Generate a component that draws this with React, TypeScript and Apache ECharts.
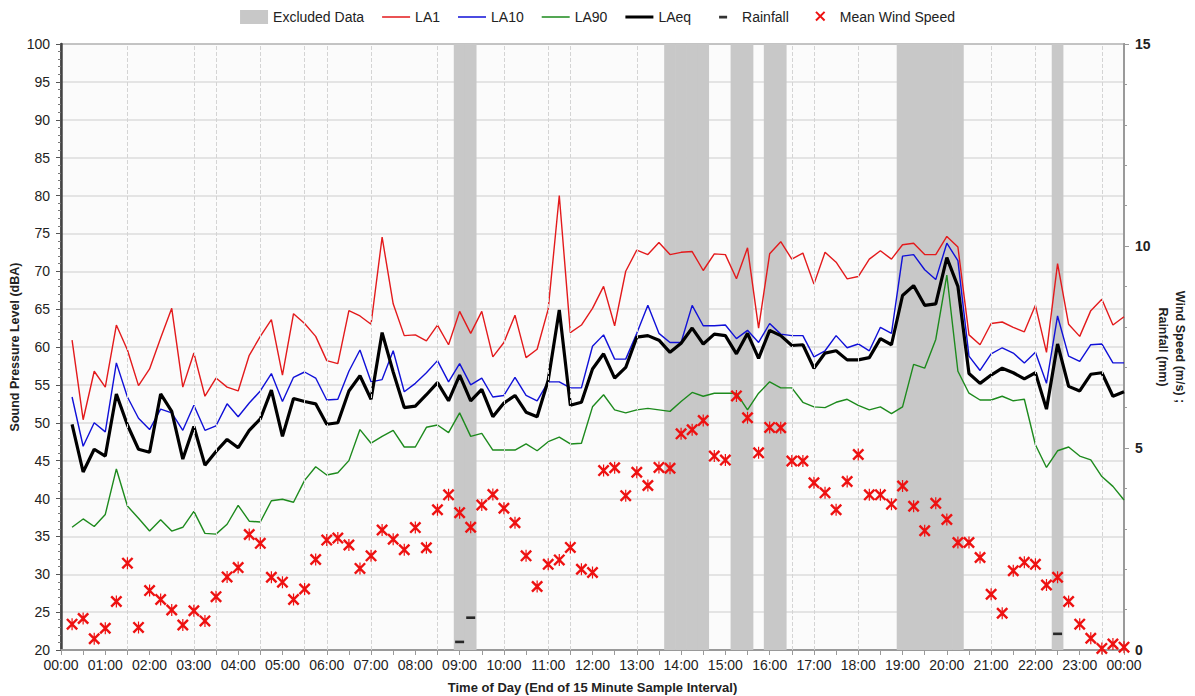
import React, { useEffect, useRef } from "react";
import * as echarts from "echarts";

// 15-minute samples, each stamped with the end of its interval (00:15 ... 24:00)
const SAMPLE_COUNT = 96;
const sampleHours: number[] = Array.from({ length: SAMPLE_COUNT }, (_, i) => (i + 1) / 4);

const la1 = [
  60.9, 50.4, 56.8, 54.7, 62.9, 59.6, 54.9, 57.1, 61.2, 65.1, 54.7, 59.2,
  53.5, 55.9, 54.7, 54.2, 58.9, 61.4, 63.6, 56.3, 64.4, 63.1, 61.4, 58.2,
  57.8, 64.8, 64.1, 63.0, 74.5, 65.7, 61.5, 61.6, 60.8, 62.9, 60.3, 64.7,
  61.8, 64.7, 58.7, 60.6, 64.2, 58.6, 59.7, 65.0, 80.0, 61.9, 62.9, 65.1,
  68.0, 62.8, 70.0, 72.8, 72.2, 73.8, 72.2, 72.5, 72.6, 70.1, 72.3, 72.2,
  69.0, 73.1, 62.5, 72.3, 73.9, 71.6, 72.4, 68.3, 72.5, 71.2, 69.0, 69.3,
  71.6, 72.7, 71.6, 73.5, 73.7, 72.2, 72.2, 74.6, 73.2, 61.6, 60.3, 63.1,
  63.3, 62.6, 62.0, 65.5, 59.3, 71.0, 63.0, 61.4, 64.8, 66.3, 62.9, 64.0,
];

const la10 = [
  53.4, 46.9, 50.0, 48.8, 57.9, 53.4, 50.6, 49.1, 51.8, 51.3, 49.0, 52.3,
  49.0, 49.6, 52.5, 50.8, 52.6, 54.2, 56.5, 52.8, 56.0, 56.7, 55.9, 53.0,
  53.1, 56.8, 59.6, 55.4, 55.7, 59.5, 54.1, 55.2, 56.6, 58.2, 55.4, 57.8,
  55.0, 55.9, 53.4, 53.6, 56.0, 53.6, 52.9, 55.4, 55.4, 54.6, 54.6, 60.1,
  61.6, 58.4, 58.4, 61.8, 65.5, 61.8, 60.6, 60.6, 65.5, 62.8, 62.8, 62.9,
  61.1, 62.2, 60.6, 63.1, 61.7, 61.5, 61.5, 58.7, 59.5, 61.5, 59.9, 60.4,
  59.5, 62.6, 61.8, 72.0, 72.2, 70.2, 68.9, 73.7, 71.4, 58.8, 56.9, 59.1,
  59.9, 59.2, 57.9, 59.3, 55.2, 64.1, 58.8, 58.1, 60.3, 60.4, 57.9, 57.9,
];

const la90 = [
  36.2, 37.3, 36.3, 37.9, 43.9, 39.0, 37.4, 35.7, 37.2, 35.7, 36.2, 38.3,
  35.4, 35.3, 36.6, 39.1, 37.0, 36.9, 39.7, 39.9, 39.5, 42.4, 44.2, 43.1,
  43.4, 45.0, 49.1, 47.3, 48.2, 49.0, 46.8, 46.8, 49.4, 49.7, 48.7, 51.3,
  48.2, 48.6, 46.4, 46.4, 46.4, 47.2, 46.3, 47.5, 48.1, 47.2, 47.3, 52.1,
  53.7, 51.7, 51.3, 51.7, 51.9, 51.7, 51.5, 52.8, 54.0, 53.5, 53.9, 53.9,
  53.9, 51.7, 53.9, 55.4, 54.6, 54.6, 52.7, 52.1, 52.0, 52.7, 53.1, 52.3,
  51.7, 52.1, 51.2, 52.1, 57.7, 57.2, 61.0, 69.5, 56.8, 53.9, 53.0, 53.0,
  53.5, 52.9, 53.1, 47.1, 44.1, 46.3, 46.8, 45.6, 45.1, 42.9, 41.6, 39.8,
];

const laeq = [
  49.8, 43.5, 46.5, 45.6, 53.8, 49.7, 46.5, 46.1, 53.8, 51.5, 45.2, 49.5,
  44.4, 46.2, 47.8, 46.7, 49.0, 50.5, 54.3, 48.2, 53.2, 52.8, 52.5, 49.8,
  50.0, 54.2, 56.2, 53.1, 61.9, 56.7, 52.0, 52.2, 53.7, 55.3, 52.9, 56.3,
  52.9, 54.4, 50.8, 52.6, 53.6, 51.4, 50.8, 55.6, 64.9, 52.3, 52.7, 57.1,
  59.1, 55.9, 57.3, 61.3, 61.5, 60.9, 59.3, 60.5, 62.5, 60.4, 61.7, 61.5,
  59.1, 61.8, 58.5, 62.2, 61.5, 60.2, 60.3, 57.2, 59.2, 59.5, 58.3, 58.3,
  58.6, 61.1, 60.3, 66.8, 68.1, 65.5, 65.7, 71.8, 68.0, 56.5, 55.2, 56.3,
  57.2, 56.6, 55.8, 56.6, 51.8, 60.4, 54.8, 54.2, 56.4, 56.6, 53.5, 54.1,
];

const meanWindSpeed = [
  0.64, 0.78, 0.28, 0.54, 1.2, 2.15, 0.56, 1.47, 1.25, 0.99, 0.62, 0.97,
  0.72, 1.32, 1.81, 2.04, 2.86, 2.64, 1.8, 1.68, 1.25, 1.51, 2.24, 2.72,
  2.77, 2.6, 2.02, 2.33, 2.97, 2.74, 2.48, 3.03, 2.53, 3.47, 3.84, 3.4,
  3.04, 3.59, 3.85, 3.51, 3.15, 2.33, 1.57, 2.12, 2.23, 2.54, 2.0, 1.92,
  4.44, 4.51, 3.82, 4.4, 4.07, 4.52, 4.5, 5.35, 5.45, 5.68, 4.8, 4.7,
  6.29, 5.75, 4.88, 5.51, 5.5, 4.68, 4.68, 4.14, 3.89, 3.47, 4.17, 4.84,
  3.84, 3.84, 3.61, 4.06, 3.56, 2.95, 3.63, 3.23, 2.66, 2.66, 2.29, 1.38,
  0.91, 1.96, 2.17, 2.12, 1.61, 1.8, 1.2, 0.64, 0.29, 0.04, 0.15, 0.07,
];

// Samples with measurable rain
const rainTimes = ["09:00", "09:15", "22:30"];
const rainfallMm = [0.2, 0.8, 0.4];

// Samples excluded from the assessment
const excludedTimes = [
  "09:00", "09:15",
  "13:45", "14:00", "14:15", "14:30",
  "15:15", "15:30",
  "16:00", "16:15",
  "19:00", "19:15", "19:30", "19:45", "20:00", "20:15",
  "22:30",
];

// Vertical reference lines (hours)
const gridHours = [1.5, 3, 3.5, 4.5, 5.5, 6, 7, 8.5, 10, 11, 11.5, 13, 16.5, 17, 18, 21, 22, 23.5];

const FONT = "'Liberation Sans', Arial, sans-serif";
const TEXT = "#222222";

const toHours = (t: string) => {
  const [h, m] = t.split(":").map(Number);
  const v = h + m / 60;
  return v === 0 ? 24 : v;
};

const clock = (v: number) => {
  const h = Math.round(v) % 24;
  return (h < 10 ? "0" : "") + h + ":00";
};

// Asterisk-like cross marker (two heavy diagonals and a thin upright)
const STAR =
  "M0 1.7L1.7 0L12 10.3L10.3 12Z M10.3 0L12 1.7L1.7 12L0 10.3Z M5.4 0L6.6 0L6.6 12L5.4 12Z";
// Legend glyphs padded to the 28x14 icon box so they keep their own size
const PAD = "M0 0h0.05v0.05h-0.05Z M28 14h-0.05v-0.05h0.05Z ";
const STAR_LEGEND =
  "path://" + PAD +
  "M8.5 2.6L9.9 1.2L18.5 9.8L17.1 11.2Z M17.1 1.2L18.5 2.6L9.9 11.2L8.5 9.8Z";
const DASH_LEGEND = "path://" + PAD + "M10 5.8h8v2.6h-8Z";
const lineIcon = (w: number) => "path://" + PAD + `M0 ${7 - w / 2}h28v${w}h-28Z`;

export default function App() {
  const ref = useRef<HTMLDivElement>(null);

  useEffect(() => {
    if (!ref.current) return;
    const chart = echarts.init(ref.current, undefined, { renderer: "svg" });

    const halfStep = 0.125;
    const lineData = (vals: number[]) => sampleHours.map((h, i) => [h, vals[i]]);

    const option: any = {
      animation: false,
      backgroundColor: "#ffffff",
      textStyle: { fontFamily: FONT },
      legend: {
        top: 5,
        left: "center",
        itemWidth: 28,
        itemHeight: 14,
        itemGap: 18,
        textStyle: { fontSize: 14, color: TEXT, fontFamily: FONT },
        data: [
          { name: "Excluded Data", icon: "rect" },
          { name: "LA1", icon: lineIcon(1.4) },
          { name: "LA10", icon: lineIcon(1.4) },
          { name: "LA90", icon: lineIcon(1.4) },
          { name: "LAeq", icon: lineIcon(3) },
          { name: "Rainfall", icon: DASH_LEGEND },
          { name: "Mean Wind Speed", icon: STAR_LEGEND },
        ],
      },
      grid: {
        left: 61,
        right: 71,
        top: 44,
        bottom: 46,
        outerBoundsMode: "none",
        containLabel: false,
        show: true,
        backgroundColor: "#fbfbfb",
        borderColor: "#505050",
        borderWidth: 1.5,
      },
      xAxis: {
        type: "value",
        min: 0,
        max: 24,
        interval: 1,
        axisLine: { show: true, lineStyle: { color: "#9a9a9a", width: 2 } },
        axisTick: { show: true, length: 5, lineStyle: { color: "#9a9a9a", width: 1 } },
        minorTick: { show: true, splitNumber: 2, length: 5, lineStyle: { color: "#9a9a9a", width: 1 } },
        splitLine: { show: false },
        axisLabel: { formatter: clock, fontSize: 14, color: TEXT, margin: 8, fontFamily: FONT },
        name: "Time of Day (End of 15 Minute Sample Interval)",
        nameLocation: "middle",
        nameGap: 31,
        nameMoveOverlap: false,
        nameTextStyle: { fontWeight: "bold", fontSize: 13, color: TEXT, fontFamily: FONT },
      },
      yAxis: [
        {
          type: "value",
          min: 20,
          max: 100,
          interval: 5,
          axisLine: { show: true, lineStyle: { color: "#444444", width: 2.5 } },
          axisTick: { show: true, length: 5, lineStyle: { color: "#555555" } },
          minorTick: { show: true, splitNumber: 5, length: 3, lineStyle: { color: "#777777" } },
          splitLine: { show: true, lineStyle: { color: "#dcdcdc", width: 1.5 } },
          axisLabel: { fontSize: 14, color: TEXT, margin: 11, fontFamily: FONT },
          name: "Sound Pressure Level (dBA)",
          nameLocation: "middle",
          nameRotate: 90,
          nameGap: 40,
          nameMoveOverlap: false,
          nameTextStyle: { fontWeight: "bold", fontSize: 12.5, color: TEXT, fontFamily: FONT },
        },
        {
          type: "value",
          position: "right",
          min: 0,
          max: 15,
          interval: 5,
          axisLine: { show: true, lineStyle: { color: "#9a9a9a", width: 2 } },
          axisTick: { show: true, length: 5, lineStyle: { color: "#9a9a9a" } },
          minorTick: { show: true, splitNumber: 5, length: 3, lineStyle: { color: "#9a9a9a" } },
          splitLine: { show: false },
          axisLabel: { fontSize: 14, fontWeight: "bold", color: TEXT, margin: 11, fontFamily: FONT },
          name: "Wind Speed (m/s) ;\nRainfall (mm)",
          nameLocation: "middle",
          nameRotate: -90,
          nameGap: 30,
          nameMoveOverlap: false,
          nameTextStyle: { fontWeight: "bold", fontSize: 12.5, color: TEXT, lineHeight: 17, fontFamily: FONT },
        },
      ],
      series: [
        {
          // vertical reference lines
          name: "gridlines",
          type: "line",
          data: [],
          z: 0,
          silent: true,
          markLine: {
            silent: true,
            symbol: ["none", "none"],
            label: { show: false },
            lineStyle: { color: "#d4d4d4", type: [4, 2], width: 1 },
            data: gridHours.map((h) => ({ xAxis: h })),
          },
        },
        {
          name: "Excluded Data",
          type: "custom",
          z: 1,
          silent: true,
          itemStyle: { color: "#c8c8c8" },
          data: excludedTimes.map((t) => [toHours(t), 100]),
          encode: { x: 0, y: 1 },
          renderItem: (params: any, api: any) => {
            const t = api.value(0);
            const p0 = api.coord([t - halfStep, 100]);
            const p1 = api.coord([t + halfStep, 20]);
            return {
              type: "rect",
              shape: { x: p0[0] - 0.3, y: p0[1], width: p1[0] - p0[0] + 0.6, height: p1[1] - p0[1] },
              style: { fill: "#c8c8c8" },
            };
          },
        },
        {
          name: "LA1",
          type: "line",
          z: 3,
          symbol: "none",
          data: lineData(la1),
          lineStyle: { color: "#e31a1c", width: 1.4 },
          itemStyle: { color: "#e31a1c" },
        },
        {
          name: "LA10",
          type: "line",
          z: 3,
          symbol: "none",
          data: lineData(la10),
          lineStyle: { color: "#1010d8", width: 1.4 },
          itemStyle: { color: "#1010d8" },
        },
        {
          name: "LA90",
          type: "line",
          z: 3,
          symbol: "none",
          data: lineData(la90),
          lineStyle: { color: "#1d8a1d", width: 1.4 },
          itemStyle: { color: "#1d8a1d" },
        },
        {
          name: "LAeq",
          type: "line",
          z: 4,
          symbol: "none",
          data: lineData(laeq),
          lineStyle: { color: "#000000", width: 3.2 },
          itemStyle: { color: "#000000" },
        },
        {
          name: "Rainfall",
          type: "scatter",
          yAxisIndex: 1,
          z: 5,
          symbol: "rect",
          symbolSize: [9, 2.6],
          itemStyle: { color: "#000000" },
          data: rainTimes.map((t, i) => [toHours(t), rainfallMm[i]]),
        },
        {
          name: "Mean Wind Speed",
          type: "scatter",
          yAxisIndex: 1,
          z: 5,
          symbol: "path://" + STAR,
          symbolSize: 12,
          itemStyle: { color: "#ee1111", opacity: 1 },
          data: lineData(meanWindSpeed),
        },
      ],
    };

    chart.setOption(option);
    return () => chart.dispose();
  }, []);

  return (
    <div
      ref={ref}
      style={{ position: "absolute", left: 0, top: 0, width: 1195, height: 696, background: "#ffffff" }}
    />
  );
}
